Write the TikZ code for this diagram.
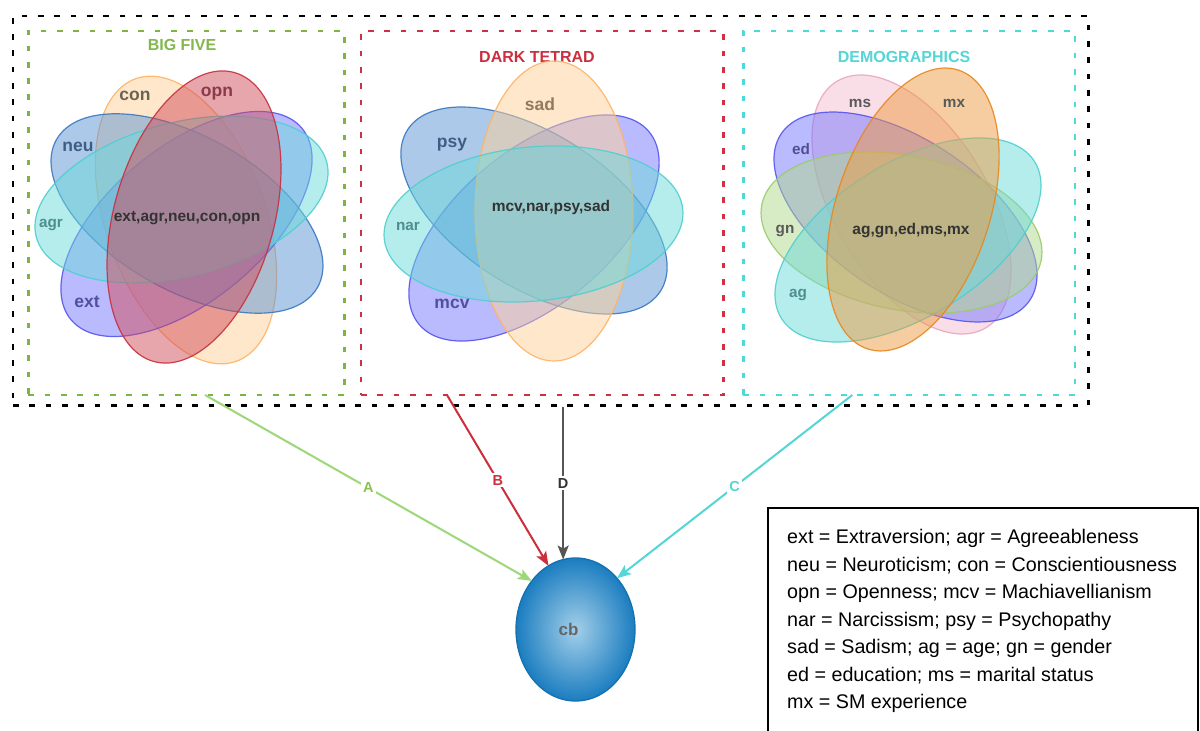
\documentclass[tikz,border=0pt]{standalone}
\usepackage{fontspec}
\setmainfont{Liberation Sans}
\usetikzlibrary{arrows.meta,shapes.geometric,calc}

\definecolor{cOrange}{HTML}{FFD099}\definecolor{sOrange}{HTML}{FFB366}
\definecolor{cRed}{HTML}{D14D5B}\definecolor{sRed}{HTML}{C8303F}
\definecolor{cBlue}{HTML}{5A94D6}\definecolor{sBlue}{HTML}{3A78C0}
\definecolor{cPurple}{HTML}{7777FF}\definecolor{sPurple}{HTML}{5555EE}
\definecolor{cCyan}{HTML}{6DDADA}\definecolor{sCyan}{HTML}{4ECFCF}
\definecolor{cPink}{HTML}{F5BFD3}\definecolor{sPink}{HTML}{E8A6C0}
\definecolor{cOrTwo}{HTML}{EE9C42}\definecolor{sOrTwo}{HTML}{E8871E}
\definecolor{cGreen}{HTML}{B0D98A}\definecolor{sGreen}{HTML}{9ACC6A}

\definecolor{lCon}{HTML}{6E6352}\definecolor{lOpn}{HTML}{8A3B47}
\definecolor{lNeu}{HTML}{3E5E86}\definecolor{lAgr}{HTML}{4E8E8E}
\definecolor{lExt}{HTML}{50509E}\definecolor{lSad}{HTML}{8E7C60}
\definecolor{lGray}{HTML}{5A5A5A}\definecolor{lEd}{HTML}{505090}
\definecolor{ctrText}{HTML}{333333}

\definecolor{gBox}{HTML}{7BB542}\definecolor{rBox}{HTML}{D0303F}\definecolor{cBox}{HTML}{4ED9D9}
\definecolor{tGreen}{HTML}{82B84C}\definecolor{tRed}{HTML}{CC2F3F}\definecolor{tCyan}{HTML}{55D6D6}
\definecolor{arA}{HTML}{9DD77A}\definecolor{labAcol}{HTML}{88C34F}
\definecolor{arB}{HTML}{CC2F3C}\definecolor{arD}{HTML}{555555}\definecolor{arC}{HTML}{55D6D6}

\definecolor{cbin}{HTML}{A3CFE9}\definecolor{cbout}{HTML}{1B7DC0}
\definecolor{cbstroke}{HTML}{1570B0}\definecolor{cbtext}{HTML}{666666}

\pgfdeclareradialshading{cbshade}{\pgfpoint{0bp}{0bp}}{color(0bp)=(cbin); color(25bp)=(cbout); color(50bp)=(cbout)}

\newcommand\vennell[7]{%
  \draw[fill=#1, fill opacity=0.5, draw=#2, draw opacity=0.9, line width=1.2pt,
        rotate around={#7:(#3,#4)}] (#3,#4) ellipse [x radius=#5pt, y radius=#6pt];}

\tikzset{
  dashbox/.style={line width=2.6pt, dash pattern=on 5.7pt off 10.6pt, inner sep=0pt, outer sep=0pt, anchor=north west},
  lblbig/.style={font=\bfseries\fontsize{17.5}{20}\selectfont, anchor=base, inner sep=0pt},
  lblsmall/.style={font=\bfseries\fontsize{15.3}{18}\selectfont, anchor=base, inner sep=0pt},
  ctrlbl/.style={font=\bfseries\fontsize{15.5}{18}\selectfont, anchor=base, inner sep=0pt, text=ctrText},
  titlelbl/.style={font=\bfseries\fontsize{16}{19}\selectfont, anchor=base, inner sep=0pt},
  arr/.style={line width=2pt, -{Stealth[length=14pt,width=11pt,inset=3pt]}},
  alabel/.style={fill=white, inner sep=2pt, font=\bfseries\fontsize{14.5}{17}\selectfont}
}

\begin{document}
\begin{tikzpicture}[x=1pt,y=1pt]
\useasboundingbox (0,0) rectangle (1200,731);
\fill[white] (0,0) rectangle (1200,731);

% boxes
\node[dashbox, draw=black, minimum width=1075.7pt, minimum height=389.5pt] (outer) at (13,715) {};
\node[dashbox, draw=gBox, minimum width=316pt, minimum height=364pt] (bigfive) at (28.3,700) {};
\node[dashbox, draw=rBox, minimum width=362.3pt, minimum height=364pt] (darktetrad) at (361,700) {};
\node[dashbox, draw=cBox, minimum width=331.7pt, minimum height=364pt] (demo) at (743.3,700) {};

% titles
\node[titlelbl, text=tGreen] (t1) at (182,680.3) {BIG FIVE};
\node[titlelbl, text=tRed] (t2) at (537,668.3) {DARK TETRAD};
\node[titlelbl, text=tCyan] (t3) at (904,668.3) {DEMOGRAPHICS};

% Big five
\vennell{cOrange}{sOrange}{186}{511}{150}{80}{-70.4}
\vennell{cPurple}{sPurple}{186.5}{507}{150}{77}{39.6}
\vennell{cBlue}{sBlue}{187}{517.5}{150}{77}{-29.5}
\vennell{cCyan}{sCyan}{181.5}{531.5}{150}{77}{14.4}
\vennell{cRed}{sRed}{194}{514}{150}{80}{74.4}
\node[lblbig, text=lCon] (lcon) at (135,630.5) {con};
\node[lblbig, text=lOpn] (lopn) at (217,634.5) {opn};
\node[lblbig, text=lNeu] (lneu) at (78,579.5) {neu};
\node[lblsmall, text=lAgr] (lagr) at (51,503) {agr};
\node[lblbig, text=lExt] (lext) at (87,423.5) {ext};
\node[ctrlbl] (cbig) at (187,509) {ext,agr,neu,con,opn};

% Dark tetrad
\vennell{cPurple}{sPurple}{534}{503}{150}{77}{40}
\vennell{cBlue}{sBlue}{534}{520.5}{150}{77}{-32.5}
\vennell{cOrange}{sOrange}{554}{520}{150}{79}{90}
\vennell{cCyan}{sCyan}{533.5}{507}{150}{77}{5.6}
\node[lblbig, text=lSad] (lsad) at (540,620.5) {sad};
\node[lblbig, text=lNeu] (lpsy) at (452,583.5) {psy};
\node[lblsmall, text=lAgr] (lnar) at (408,500) {nar};
\node[lblbig, text=lExt] (lmcv) at (452,422.5) {mcv};
\node[ctrlbl] (cdark) at (551,519) {mcv,nar,psy,sad};

% Demographics
\vennell{cPink}{sPink}{911.5}{526.5}{144}{77}{-58.8}
\vennell{cPurple}{sPurple}{905.5}{514}{149.6}{77}{-33.8}
\vennell{cGreen}{sGreen}{901.5}{498.5}{142.4}{77}{-11.3}
\vennell{cCyan}{sCyan}{908}{491}{148.9}{77}{31.7}
\vennell{cOrTwo}{sOrTwo}{913}{521.5}{146.6}{77}{72}
\node[lblsmall, text=lGray] (lms) at (860,623) {ms};
\node[lblsmall, text=lGray] (lmx) at (954,623) {mx};
\node[lblsmall, text=lEd] (led) at (801,576) {ed};
\node[lblsmall, text=lGray] (lgn) at (785,497) {gn};
\node[lblsmall, text=lAgr] (lag) at (798,433) {ag};
\node[ctrlbl] (cdemo) at (911,496) {ag,gn,ed,ms,mx};

% outcome
\node[ellipse, minimum width=119pt, minimum height=143pt, inner sep=0pt, outer sep=0pt,
      draw=cbstroke, line width=1.3pt, shading=cbshade,
      font=\bfseries\fontsize{17}{20}\selectfont, text=cbtext] (cb) at (575.5,101.5) {\hspace*{-14pt}cb};

% connectors
\coordinate (sA) at ($(bigfive.south west)+(176.7,0)$);
\coordinate (sB) at ($(darktetrad.south west)+(86,0)$);
\coordinate (sC) at ($(demo.south west)+(109,0)$);
\coordinate (sD) at ([yshift=-1.5pt]cb.100.5 |- outer.south);
\draw[arr, draw=arA, fill=arA] (sA) -- node[alabel, text=labAcol, pos=0.5] (labA) {A} (cb.132.4);
\draw[arr, draw=arB, fill=arB] (sB) -- node[alabel, text=arB, pos=0.5] (labB) {B} (cb.113.3);
\draw[arr, draw=arD, fill=arD] (sD) -- node[alabel, text=ctrText, pos=0.5] (labD) {D} (cb.100.5);
\draw[arr, draw=arC, fill=arC] (sC) -- node[alabel, text=arC, pos=0.5] (labC) {C} (cb.51.6);

% legend
\node[draw=black, line width=1.5pt, anchor=north west, minimum width=430pt, minimum height=240pt,
      inner sep=0pt, outer sep=0pt] (legend) at (768,223) {};
\node[anchor=base west, inner sep=0pt, font=\fontsize{19.7}{27.5}\selectfont] (legendtext) at (787,187)
 {\vtop{\hbox{ext = Extraversion; agr = Agreeableness}
        \hbox{neu = Neuroticism; con = Conscientiousness}
        \hbox{opn = Openness; mcv = Machiavellianism}
        \hbox{nar = Narcissism; psy = Psychopathy}
        \hbox{sad = Sadism; ag = age; gn = gender}
        \hbox{ed = education; ms = marital status}
        \hbox{mx = SM experience}}};
\end{tikzpicture}
\end{document}
